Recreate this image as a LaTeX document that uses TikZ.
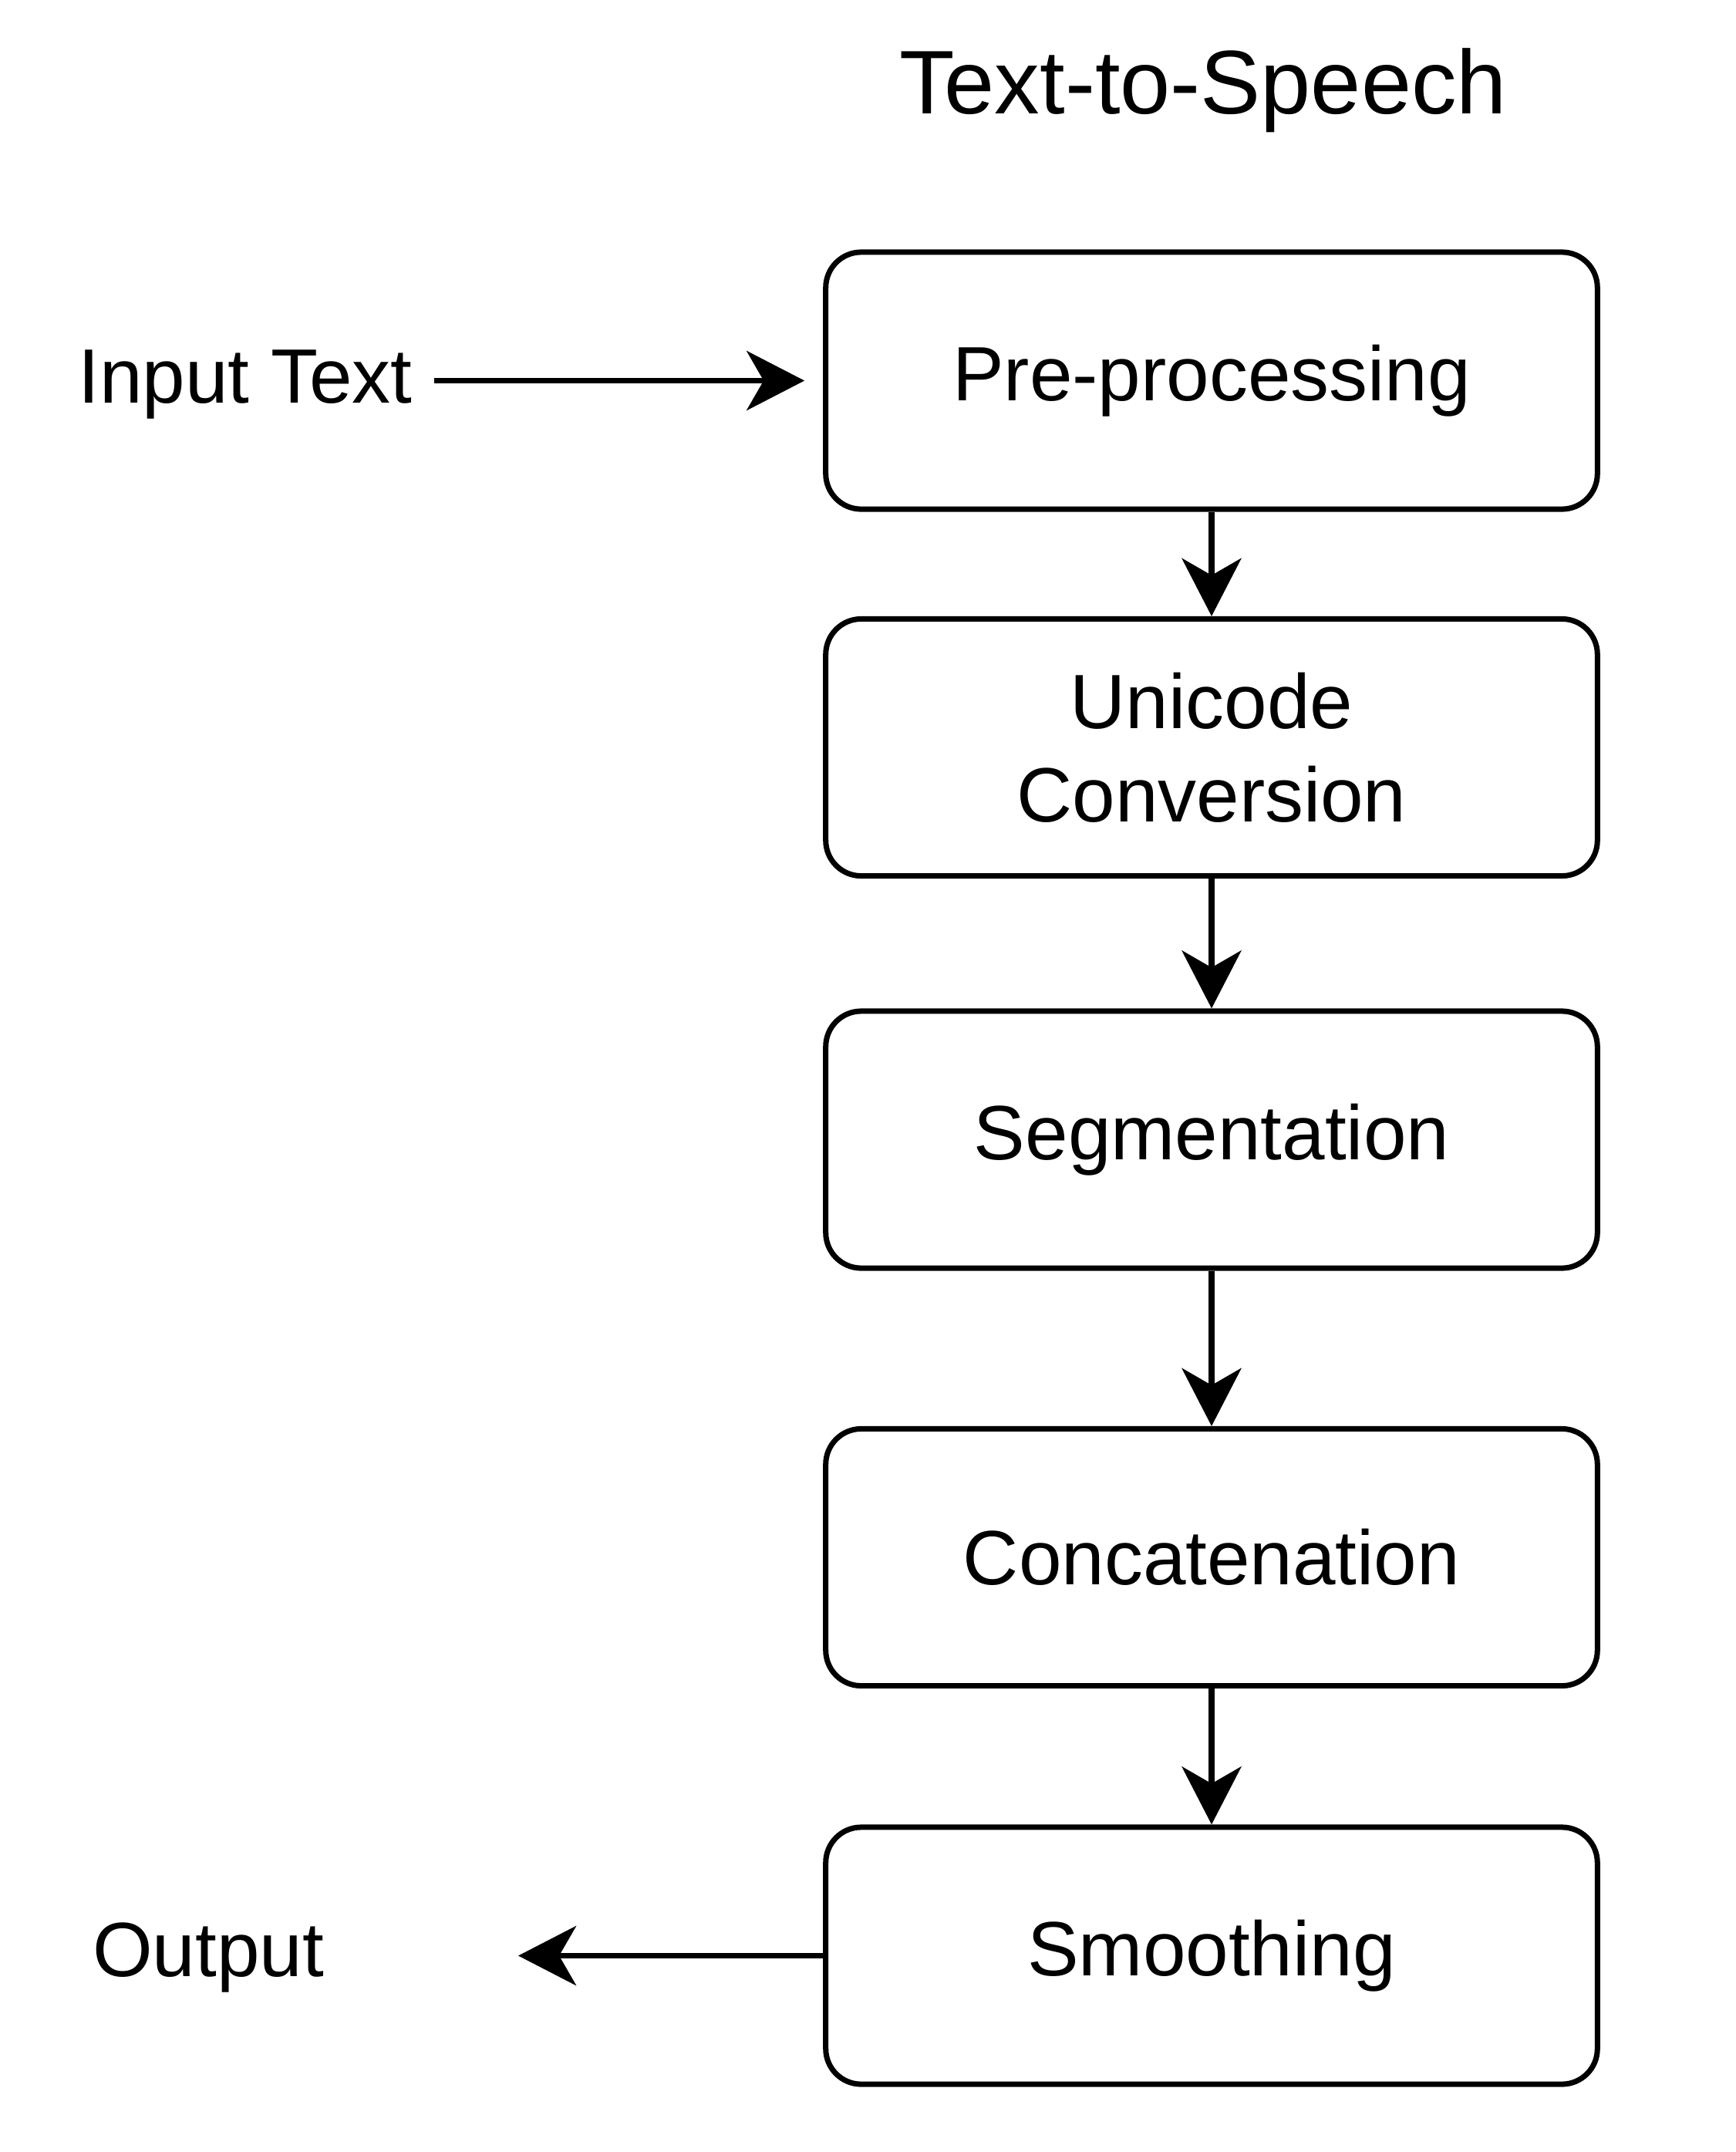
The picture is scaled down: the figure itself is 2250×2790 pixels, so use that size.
\documentclass[tikz,border=0pt]{standalone}
\usepackage{fontspec}
\setmainfont{Liberation Sans}
\usepackage{tikz}
\usetikzlibrary{arrows.meta}
\tikzset{block/.style={draw, line width=2pt, rounded corners=0.46cm, minimum width=10cm, minimum height=3.33cm, align=center, font=\fontsize{28.4}{34.5}\selectfont}}
\tikzset{label/.style={font=\fontsize{28.4}{34.5}\selectfont}}
\tikzset{flow/.style={line width=2pt, -{Stealth[length=0.75cm, width=0.77cm, inset=0.22cm]}}}
\tikzset{every picture/.append style={x=0.01cm, y=-0.01cm}}

\begin{document}
\begin{tikzpicture}
\useasboundingbox (0,0) rectangle (2250,2790);
\node (title) at (1560,117)[font=\fontsize{33.3}{40}\selectfont]{Text-to-Speech};

\node (pre) at (1571,493.5)[block]{Pre-processing};
\node (uni) at (1571,969)[block]{Unicode\\Conversion};
\node (seg) at (1571,1477.5)[block]{Segmentation};
\node (con) at (1571,2019)[block]{Concatenation};
\node (smo) at (1571,2535.5)[block]{Smoothing};

\node (intext) at (318,498)[label]{Input Text};
\node (output) at (270,2538)[label]{Output};
\coordinate (intail) at (563,493.5);
\coordinate (outtip) at (672,2535.5);

\draw[flow, shorten >=0.24cm] (intail) -- (pre);
\draw[flow] (pre) -- (uni);
\draw[flow] (uni) -- (seg);
\draw[flow] (seg) -- (con);
\draw[flow] (con) -- (smo);
%output leaves the last box to the left
\draw[flow] (smo.west) -- (outtip);
\end{tikzpicture}
\end{document}
